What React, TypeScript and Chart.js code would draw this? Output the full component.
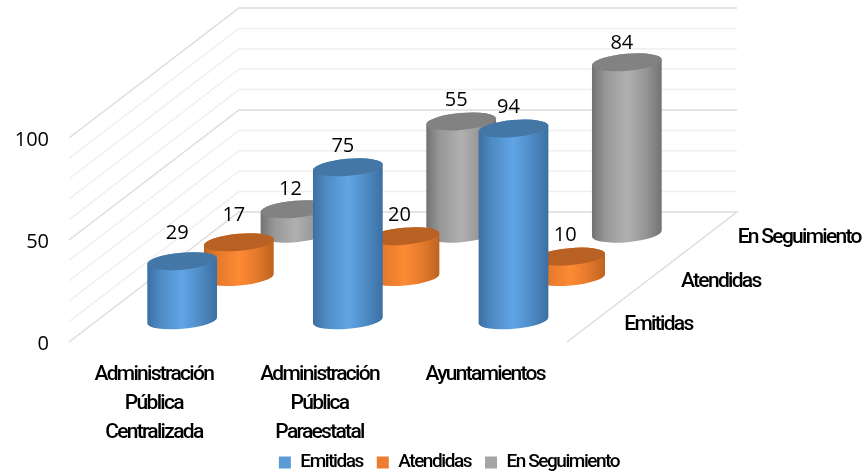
import React, { useEffect, useRef } from "react";
import { Chart, registerables } from "chart.js";

Chart.register(...registerables);

const categories = [
  ["Administración", "Pública", "Centralizada"],
  ["Administración", "Pública", "Paraestatal"],
  "Ayuntamientos",
];
const seriesNames = ["Emitidas", "Atendidas", "En Seguimiento"];
const emitidas = [29, 75, 94];
const atendidas = [17, 20, 10];
const enSeguimiento = [12, 55, 84];

const W = 862;
const H = 475;
const NUM_FONT = "Open Sans";
const TEXT_FONT = "Roboto";
const AXIS_SPACING = "-1.7px";
const LEGEND_SPACING = "-1.45px";
const FLOOR_DX = 170;
const FLOOR_DY = -130;
const SHADES = [
  { edge: "#3b6fa2", mid: "#4f8cc6", light: "#60a5e6", top: "#4577a6" },
  { edge: "#bd6320", mid: "#e57a2c", light: "#fd8a34", top: "#b86122" },
  { edge: "#727272", mid: "#989898", light: "#b0b0b0", top: "#828282" },
];
const LABEL_LIFT = [
  [28, 21, 21],
  [27, 21, 21],
  [20, 21, 19],
];

const spaced = (ctx: CanvasRenderingContext2D, px: string, fn: () => void) => {
  ctx.save();
  (ctx as any).letterSpacing = px;
  fn();
  ctx.restore();
};

const cylinder = (
  ctx: CanvasRenderingContext2D,
  cx: number,
  topY: number,
  baseY: number,
  width: number,
  c: (typeof SHADES)[number],
) => {
  const rx = width / 2;
  const ry = 8.5;
  const rot = (-5 * Math.PI) / 180;
  const grad = ctx.createLinearGradient(cx - rx, 0, cx + rx, 0);
  grad.addColorStop(0, c.edge);
  grad.addColorStop(0.2, c.mid);
  grad.addColorStop(0.5, c.light);
  grad.addColorStop(0.75, c.mid);
  grad.addColorStop(1, c.edge);
  ctx.save();
  ctx.beginPath();
  ctx.ellipse(cx, baseY, rx, ry, rot, 0, Math.PI);
  ctx.ellipse(cx, topY, rx, ry, rot, Math.PI, 0);
  ctx.closePath();
  ctx.fillStyle = grad;
  ctx.fill();
  ctx.beginPath();
  ctx.ellipse(cx, topY, rx, ry, rot, 0, Math.PI * 2);
  ctx.fillStyle = c.top;
  ctx.fill();
  ctx.restore();
};

const scene3d = {
  id: "scene3d",
  beforeLayout(chart: any) {
    const { ctx, legend } = chart;
    if (legend && !legend.__wrapped) {
      legend.__wrapped = true;
      const fit = legend.fit.bind(legend);
      legend.fit = () => spaced(ctx, LEGEND_SPACING, fit);
      const draw = legend.draw.bind(legend);
      legend.draw = () =>
        spaced(ctx, LEGEND_SPACING, () => {
          ctx.translate(18, 7);
          draw();
        });
    }
  },
  beforeDraw(chart: any) {
    const { ctx } = chart;
    const { x, y } = chart.scales;
    if (!x.__wrapped) {
      x.__wrapped = true;
      const labels = x.drawLabels.bind(x);
      x._computeLabelArea = () => undefined;
      x.drawLabels = (a: any) => spaced(ctx, AXIS_SPACING, () => labels(a));
      const yLabels = y.drawLabels.bind(y);
      y.drawLabels = (a: any) => {
        ctx.save();
        ctx.translate(0, 2);
        yLabels(a);
        ctx.restore();
      };
    }
  },
  beforeDatasetsDraw(chart: any) {
    const { ctx, chartArea, scales } = chart;
    const left = chartArea.left - 2;
    const right = chartArea.right - 1;
    ctx.save();
    ctx.lineCap = "butt";
    scales.y.ticks.forEach((t: any) => {
      const y = scales.y.getPixelForValue(t.value);
      const major = t.value % 50 === 0;
      ctx.strokeStyle = major ? "#dcdcdc" : "#f0f0f0";
      ctx.lineWidth = 1.5;
      ctx.beginPath();
      ctx.moveTo(left, y);
      ctx.lineTo(left + FLOOR_DX, y + FLOOR_DY);
      ctx.lineTo(right + FLOOR_DX, y + FLOOR_DY);
      if (t.value === 0) ctx.lineTo(right, y);
      ctx.stroke();
    });
    ctx.restore();
  },
  beforeDatasetDraw() {
    return false;
  },
  afterDatasetsDraw(chart: any) {
    const { ctx, chartArea, scales, data } = chart;
    const depthOf = (d: number) => (d + 0.5) / seriesNames.length;
    for (let d = data.datasets.length - 1; d >= 0; d--) {
      const f = depthOf(d);
      chart.getDatasetMeta(d).data.forEach((bar: any) => {
        cylinder(ctx, bar.x + FLOOR_DX * f, bar.y + FLOOR_DY * f, bar.base + FLOOR_DY * f, bar.width, SHADES[d]);
      });
    }
    ctx.save();
    ctx.font = `20px "${NUM_FONT}"`;
    ctx.fillStyle = "#000";
    ctx.textAlign = "center";
    ctx.textBaseline = "middle";
    data.datasets.forEach((ds: any, d: number) => {
      const f = depthOf(d);
      chart.getDatasetMeta(d).data.forEach((bar: any, i: number) => {
        ctx.fillText(String(ds.data[i]), bar.x + FLOOR_DX * f - 5, bar.y + FLOOR_DY * f - LABEL_LIFT[d][i]);
      });
    });
    ctx.font = `500 21px "${TEXT_FONT}"`;
    (ctx as any).letterSpacing = AXIS_SPACING;
    ctx.textAlign = "left";
    seriesNames.forEach((name, d) => {
      const f = depthOf(d);
      ctx.fillText(name, chartArea.right + FLOOR_DX * f + 28, scales.y.bottom + FLOOR_DY * f + 4.5);
    });
    ctx.restore();
  },
};

export default function App() {
  const ref = useRef<HTMLCanvasElement>(null);
  useEffect(() => {
    document.body.style.margin = "0";
    const chart = new Chart(ref.current!, {
      type: "bar",
      data: {
        labels: categories as any,
        datasets: [emitidas, atendidas, enSeguimiento].map((values, d) => ({
          label: seriesNames[d],
          data: values,
          backgroundColor: ["#5b9bd5", "#ed7d31", "#a5a5a5"][d],
          grouped: false,
          categoryPercentage: 1,
          barPercentage: 0.4225,
        })),
      },
      options: {
        animation: false,
        responsive: false,
        devicePixelRatio: 1,
        layout: { padding: { top: 138, left: 0, right: 0, bottom: 0 } },
        plugins: {
          tooltip: { enabled: false },
          legend: {
            position: "bottom",
            labels: {
              boxWidth: 12,
              boxHeight: 12,
              padding: 14,
              color: "#000",
              font: { family: TEXT_FONT, size: 19, weight: "500" },
            },
          },
        },
        scales: {
          x: {
            grid: { display: false, drawTicks: false },
            border: { display: false },
            ticks: {
              autoSkip: false,
              maxRotation: 0,
              padding: 18,
              color: "#000",
              font: { family: TEXT_FONT, size: 21, weight: "500", lineHeight: 1.38 },
            },
            afterFit: (s: any) => {
              s.height = H - 342 - (s.chart.legend?.height ?? 0);
            },
          },
          y: {
            min: 0,
            max: 100,
            grid: { display: false, drawTicks: false },
            border: { display: false },
            ticks: {
              autoSkip: false,
              stepSize: 10,
              padding: 22,
              color: "#000",
              font: { family: NUM_FONT, size: 20 },
              callback: (v: any) => (v % 50 === 0 ? String(v) : ""),
            },
            afterFit: (s: any) => {
              s.width = 71;
            },
          },
          y2: {
            display: true,
            position: "right",
            grid: { display: false, drawTicks: false },
            border: { display: false },
            ticks: { display: false },
            afterFit: (s: any) => {
              s.width = W - 568;
            },
          },
        },
      } as any,
      plugins: [scene3d as any],
    });
    return () => chart.destroy();
  }, []);
  return <canvas ref={ref} width={W} height={H} style={{ display: "block" }} />;
}
